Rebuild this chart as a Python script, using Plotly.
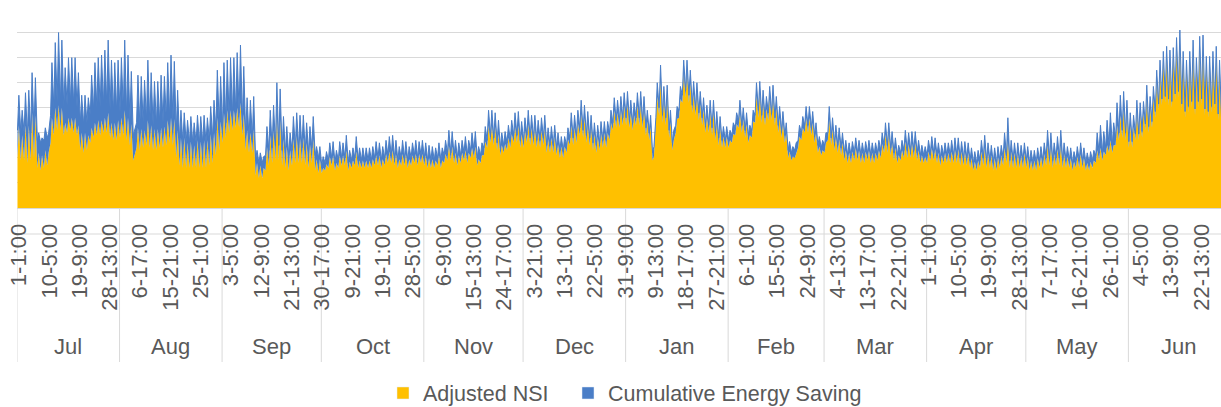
import plotly.graph_objects as go

# ---------------- data ----------------
months = ["Jul", "Aug", "Sep", "Oct", "Nov", "Dec", "Jan", "Feb", "Mar", "Apr", "May", "Jun"]
month_days = [31, 31, 30, 31, 30, 31, 31, 29, 31, 30, 31, 30]

tick_labels = [
    "1-1:00", "10-5:00", "19-9:00", "28-13:00",
    "6-17:00", "15-21:00", "25-1:00",
    "3-5:00", "12-9:00", "21-13:00", "30-17:00",
    "9-21:00", "19-1:00", "28-5:00",
    "6-9:00", "15-13:00", "24-17:00",
    "3-21:00", "13-1:00", "22-5:00", "31-9:00",
    "9-13:00", "18-17:00", "27-21:00",
    "6-1:00", "15-5:00", "24-9:00",
    "4-13:00", "13-17:00", "22-21:00",
    "1-1:00", "10-5:00", "19-9:00", "28-13:00",
    "7-17:00", "16-21:00", "26-1:00",
    "4-5:00", "13-9:00", "22-13:00",
]
tick_step_hours = 220

# daily peak of the stacked total (Adjusted NSI + Cumulative Energy Saving)
peak_total = [
    # Jul
    4.5, 3.9, 4.6, 4.7, 5.4, 5.2, 3.0, 2.8, 3.2, 3.0, 5.8, 6.6, 7.0, 6.7, 5.6, 6.0,
    6.0, 6.0, 5.4, 4.5, 4.5, 4.4, 5.3, 5.8, 6.0, 6.1, 6.3, 6.7, 5.9, 5.8, 5.9,
    # Aug
    6.0, 6.7, 6.1, 5.45, 3.1, 5.3, 5.25, 5.1, 5.9, 5.4, 5.05, 5.05, 5.3, 5.25, 5.8, 6.1,
    5.85, 4.7, 3.9, 3.8, 3.5, 3.65, 3.4, 3.7, 3.65, 3.7, 3.6, 4.05, 4.3, 5.5, 5.25,
    # Sep
    5.8, 5.9, 6.0, 6.0, 6.2, 6.5, 5.65, 4.4, 4.3, 4.45, 2.3, 2.2, 2.05, 3.25, 3.9,
    4.1, 5.0, 4.75, 3.65, 3.25, 3.0, 3.65, 3.8, 3.7, 3.7, 3.4, 3.25, 3.65, 2.45, 2.45,
    # Oct
    2.05, 2.25, 2.6, 2.65, 2.3, 2.65, 2.6, 2.9, 2.3, 2.4, 2.85, 2.4, 2.4, 2.4, 2.4, 2.45,
    2.65, 2.6, 2.45, 2.7, 2.85, 2.9, 2.7, 2.45, 2.7, 2.65, 2.45, 2.6, 2.7, 2.65, 2.7,
    # Nov
    2.6, 2.5, 2.45, 2.4, 2.6, 2.4, 2.7, 3.1, 3.05, 2.7, 2.6, 2.7, 2.85, 2.7, 3.0,
    3.05, 2.45, 2.6, 3.25, 3.9, 3.9, 3.8, 3.5, 3.0, 3.05, 3.3, 3.5, 3.8, 3.85, 3.45,
    # Dec
    3.6, 3.9, 3.7, 3.7, 3.5, 3.6, 3.7, 3.2, 3.25, 3.3, 3.0, 2.85, 2.85, 3.2, 3.8, 3.7,
    3.9, 4.3, 4.1, 3.85, 3.7, 3.4, 3.3, 3.45, 3.45, 3.45, 3.9, 4.4, 4.3, 4.45, 4.6,
    # Jan
    4.65, 4.3, 4.2, 4.6, 4.65, 4.45, 3.9, 3.7, 2.45, 5.0, 5.7, 4.85, 4.9, 3.9, 3.1, 4.05,
    4.85, 5.9, 5.9, 5.5, 5.05, 5.0, 4.65, 4.4, 4.1, 4.3, 4.3, 3.85, 3.65, 3.25, 3.25,
    # Feb
    3.1, 3.4, 3.8, 4.3, 4.0, 3.8, 3.3, 3.9, 5.0, 5.05, 4.7, 4.45, 4.85, 4.9, 4.45,
    4.05, 3.85, 3.4, 2.65, 2.45, 2.6, 3.3, 3.65, 4.05, 4.05, 3.85, 3.4, 2.85, 2.7,
    # Mar
    3.0, 4.05, 3.6, 3.3, 3.2, 3.0, 2.7, 2.6, 2.65, 2.8, 2.7, 2.6, 2.65, 2.7, 2.6, 2.6,
    2.7, 3.0, 3.4, 3.4, 3.05, 2.8, 2.5, 2.7, 3.1, 3.0, 3.05, 3.05, 2.7, 2.5, 2.45,
    # Apr
    2.7, 2.85, 2.8, 2.6, 2.5, 2.6, 2.6, 2.7, 2.8, 2.8, 2.65, 2.65, 2.6, 2.4, 2.25,
    2.3, 2.7, 2.9, 2.6, 2.5, 2.4, 2.45, 2.5, 3.0, 3.6, 2.7, 2.6, 2.6, 2.5, 2.6,
    # May
    2.45, 2.3, 2.3, 2.4, 2.45, 2.6, 3.1, 3.0, 2.6, 2.85, 3.1, 2.6, 2.45, 2.4, 2.25, 2.45,
    2.6, 2.4, 2.2, 2.25, 2.3, 3.0, 3.3, 3.05, 3.5, 3.8, 3.4, 4.2, 4.5, 4.65, 4.3,
    # Jun
    3.8, 3.7, 4.3, 4.2, 4.25, 4.9, 4.45, 4.85, 5.5, 5.9, 6.25, 6.45, 6.3, 6.4, 6.8,
    7.1, 6.25, 5.9, 6.25, 6.7, 6.0, 6.85, 6.9, 6.05, 6.05, 6.25, 6.45, 5.9, 5.8, 5.7,
]

# daily peak of Cumulative Energy Saving (blue cap on top of the NSI column)
saving_peak = [
    # Jul
    1.2, 1.0, 1.3, 1.4, 1.6, 1.5, 0.8, 0.7, 0.9, 0.8, 2.2, 2.6, 2.9, 2.7, 2.2, 2.4,
    2.4, 2.4, 2.1, 1.5, 1.5, 1.5, 2.1, 2.4, 2.5, 2.6, 2.7, 2.9, 2.5, 2.4, 2.4,
    # Aug
    2.4, 2.8, 2.5, 2.1, 1.0, 2.1, 2.1, 2.0, 2.4, 2.1, 1.9, 1.9, 2.1, 2.0, 2.3, 2.5,
    2.3, 1.6, 1.1, 1.0, 0.9, 1.0, 0.9, 1.0, 1.0, 1.0, 0.9, 1.1, 1.3, 1.9, 1.8,
    # Sep
    2.0, 2.0, 2.1, 2.1, 2.2, 2.3, 1.9, 1.3, 1.3, 1.3, 0.5, 0.5, 0.45, 0.8, 1.0,
    1.0, 1.3, 1.2, 0.9, 0.8, 0.7, 0.9, 0.9, 0.9, 0.9, 0.8, 0.7, 0.9, 0.5, 0.5,
    # Oct
    0.45, 0.5, 0.55, 0.55, 0.5, 0.55, 0.5, 0.6, 0.45, 0.5, 0.6, 0.5, 0.5, 0.5, 0.5, 0.5,
    0.55, 0.5, 0.5, 0.55, 0.6, 0.6, 0.55, 0.5, 0.55, 0.5, 0.5, 0.5, 0.55, 0.5, 0.55,
    # Nov
    0.5, 0.5, 0.5, 0.5, 0.5, 0.5, 0.55, 0.6, 0.6, 0.5, 0.5, 0.5, 0.55, 0.5, 0.6,
    0.6, 0.5, 0.5, 0.6, 0.6, 0.6, 0.55, 0.55, 0.5, 0.5, 0.5, 0.55, 0.55, 0.55, 0.5,
    # Dec
    0.5, 0.55, 0.5, 0.5, 0.5, 0.5, 0.5, 0.45, 0.45, 0.45, 0.45, 0.4, 0.4, 0.45, 0.5, 0.5,
    0.5, 0.55, 0.5, 0.5, 0.5, 0.45, 0.45, 0.45, 0.45, 0.45, 0.5, 0.5, 0.5, 0.5, 0.5,
    # Jan
    0.5, 0.5, 0.5, 0.5, 0.5, 0.5, 0.45, 0.45, 0.4, 0.55, 0.6, 0.5, 0.5, 0.45, 0.4, 0.5,
    0.5, 0.55, 0.55, 0.5, 0.5, 0.5, 0.5, 0.45, 0.45, 0.45, 0.45, 0.45, 0.4, 0.4, 0.4,
    # Feb
    0.4, 0.45, 0.45, 0.5, 0.45, 0.45, 0.4, 0.45, 0.5, 0.5, 0.5, 0.5, 0.5, 0.5, 0.45,
    0.45, 0.45, 0.4, 0.4, 0.4, 0.4, 0.45, 0.45, 0.45, 0.45, 0.45, 0.4, 0.4, 0.4,
    # Mar
    0.4, 0.5, 0.45, 0.45, 0.45, 0.4, 0.4, 0.4, 0.4, 0.4, 0.4, 0.4, 0.4, 0.4, 0.4, 0.4,
    0.4, 0.45, 0.45, 0.45, 0.45, 0.4, 0.4, 0.4, 0.45, 0.45, 0.45, 0.45, 0.4, 0.4, 0.4,
    # Apr
    0.45, 0.45, 0.45, 0.4, 0.4, 0.4, 0.4, 0.45, 0.45, 0.45, 0.4, 0.4, 0.4, 0.4, 0.4,
    0.4, 0.45, 0.5, 0.4, 0.4, 0.4, 0.4, 0.4, 0.6, 0.9, 0.45, 0.4, 0.4, 0.4, 0.4,
    # May
    0.4, 0.4, 0.4, 0.4, 0.4, 0.45, 0.6, 0.55, 0.45, 0.5, 0.6, 0.45, 0.4, 0.4, 0.4, 0.4,
    0.45, 0.4, 0.4, 0.4, 0.4, 0.7, 0.9, 0.8, 1.0, 1.1, 0.9, 0.9, 0.8, 0.7, 0.6,
    # Jun
    0.5, 0.45, 0.5, 0.45, 0.45, 0.5, 0.45, 0.45, 0.45, 0.4, 0.4, 0.4, 0.35, 0.35, 0.4,
    0.4, 0.35, 0.35, 0.35, 0.4, 0.35, 0.4, 0.4, 0.35, 0.35, 0.35, 0.35, 0.35, 0.35, 0.35,
]

# night-time level of Adjusted NSI (depth of the gaps between daily spikes)
nsi_night = [
    # Jul
    2.0, 1.9, 1.9, 1.8, 1.9, 2.0, 1.6, 1.5, 1.6, 1.7, 2.6, 2.9, 3.1, 3.1, 2.9, 3.0,
    3.1, 3.0, 2.9, 2.3, 2.2, 2.3, 2.6, 2.8, 2.9, 2.9, 3.0, 3.0, 2.8, 2.7, 2.7,
    # Aug
    2.8, 2.9, 2.7, 2.5, 1.9, 2.4, 2.3, 2.4, 2.5, 2.4, 2.3, 2.3, 2.4, 2.4, 2.5, 2.6,
    2.5, 2.0, 1.7, 1.6, 1.6, 1.6, 1.6, 1.6, 1.6, 1.6, 1.6, 1.7, 1.8, 2.1, 2.3,
    # Sep
    2.6, 2.8, 3.0, 3.1, 3.2, 3.2, 2.9, 2.3, 2.2, 2.2, 1.3, 1.2, 1.2, 1.5, 1.7,
    1.8, 1.9, 1.9, 1.7, 1.6, 1.5, 1.7, 1.8, 1.8, 1.8, 1.7, 1.6, 1.8, 1.5, 1.4,
    # Oct
    1.4, 1.5, 1.6, 1.7, 1.5, 1.6, 1.7, 1.7, 1.5, 1.6, 1.7, 1.6, 1.6, 1.6, 1.6, 1.6,
    1.7, 1.7, 1.6, 1.7, 1.8, 1.8, 1.7, 1.6, 1.7, 1.7, 1.6, 1.7, 1.8, 1.7, 1.8,
    # Nov
    1.7, 1.6, 1.6, 1.6, 1.7, 1.6, 1.8, 1.9, 1.9, 1.8, 1.7, 1.8, 1.9, 1.8, 2.0,
    2.0, 1.7, 1.8, 2.1, 2.4, 2.6, 2.5, 2.3, 2.1, 2.2, 2.3, 2.4, 2.6, 2.6, 2.4,
    # Dec
    2.4, 2.6, 2.5, 2.5, 2.4, 2.4, 2.5, 2.2, 2.2, 2.2, 2.1, 2.0, 2.0, 2.2, 2.5, 2.5,
    2.6, 2.9, 2.8, 2.6, 2.5, 2.3, 2.2, 2.3, 2.4, 2.4, 2.7, 3.1, 3.2, 3.2, 3.3,
    # Jan
    3.3, 3.2, 3.1, 3.3, 3.3, 3.2, 2.9, 2.7, 1.9, 3.3, 3.7, 3.4, 3.3, 2.8, 2.3, 3.0,
    3.6, 4.2, 4.4, 4.2, 3.8, 3.7, 3.5, 3.3, 3.0, 3.0, 2.9, 2.7, 2.5, 2.4, 2.4,
    # Feb
    2.4, 2.6, 2.9, 3.2, 3.0, 2.8, 2.6, 2.8, 3.4, 3.6, 3.4, 3.3, 3.5, 3.5, 3.3,
    3.0, 2.8, 2.6, 2.0, 1.9, 2.0, 2.4, 2.7, 3.0, 3.0, 2.9, 2.6, 2.2, 2.1,
    # Mar
    2.2, 2.7, 2.5, 2.3, 2.2, 2.1, 1.9, 1.8, 1.8, 1.9, 1.9, 1.8, 1.8, 1.9, 1.8, 1.8,
    1.9, 2.0, 2.2, 2.2, 2.1, 1.9, 1.8, 1.9, 2.0, 2.0, 2.0, 2.0, 1.9, 1.8, 1.8,
    # Apr
    1.8, 1.9, 1.9, 1.8, 1.7, 1.8, 1.8, 1.8, 1.8, 1.8, 1.7, 1.7, 1.7, 1.6, 1.5,
    1.5, 1.6, 1.7, 1.6, 1.6, 1.5, 1.5, 1.6, 1.7, 1.8, 1.6, 1.6, 1.6, 1.6, 1.6,
    # May
    1.6, 1.5, 1.5, 1.5, 1.6, 1.6, 1.7, 1.7, 1.6, 1.7, 1.7, 1.6, 1.6, 1.6, 1.5, 1.6,
    1.6, 1.6, 1.5, 1.5, 1.6, 1.8, 1.9, 1.9, 2.1, 2.2, 2.2, 2.5, 2.7, 2.8, 2.7,
    # Jun
    2.4, 2.4, 2.7, 2.7, 2.8, 3.1, 3.0, 3.2, 3.6, 3.9, 4.1, 4.2, 4.1, 4.0, 4.3,
    4.4, 3.9, 3.6, 3.8, 4.0, 3.7, 4.0, 4.1, 3.7, 3.6, 3.8, 3.9, 3.5, 3.4, 3.4,
]

# night-time Cumulative Energy Saving, per month
saving_night_by_month = [1.1, 1.0, 0.6, 0.3, 0.3, 0.3, 0.3, 0.3, 0.3, 0.3, 0.3, 0.25]

# ---------------- styling ----------------
ORANGE = "#FFC000"
BLUE = "#4A7EC7"
GRID = "#D9D9D9"
TEXT = "#595959"
FONT = "Liberation Sans, Arial, sans-serif"

NIGHT_HOUR = 3    # 04:00 (series starts at 01:00)
PEAK_HOUR = 13    # 14:00

# ---------------- build hourly-positioned series ----------------
xs, nsi_vals, sav_vals = [], [], []
day = 0
for m, nd in enumerate(month_days):
    for k in range(nd):
        if day >= len(peak_total):
            break
        xs += [day * 24 + NIGHT_HOUR, day * 24 + PEAK_HOUR]
        nsi_vals += [nsi_night[day], peak_total[day] - saving_peak[day]]
        sav_vals += [saving_night_by_month[m], saving_peak[day]]
        day += 1

# ---------------- geometry ----------------
# the page body margin is removed by a post script, so figure px == screen px
W, H = 1221, 407
L, T = 17, 7
AXIS_Y = 208            # screen y of the x-axis line in the reference
plot_h = AXIS_Y - T
B = H - T - plot_h
plot_w = W - L
PX_PER_HOUR = 0.13782
x_lo = -0.5
x_hi = x_lo + plot_w / PX_PER_HOUR
tickvals = [i * tick_step_hours for i in range(len(tick_labels))]


def py(screen_y):
    return (AXIS_Y - screen_y) / plot_h


def px(screen_x):
    return (screen_x - L) / plot_w


fig = go.Figure()
fig.add_trace(go.Scatter(
    x=xs, y=nsi_vals, mode="lines", stackgroup="one",
    line=dict(width=0, color=ORANGE), fillcolor=ORANGE,
    name="Adjusted NSI", showlegend=False, hoverinfo="skip",
))
fig.add_trace(go.Scatter(
    x=xs, y=sav_vals, mode="lines", stackgroup="one",
    line=dict(width=1, color=BLUE), fillcolor=BLUE,
    name="Cumulative Energy Saving", showlegend=False, hoverinfo="skip",
))
# legend entries (square swatches like the original), one legend box each
fig.add_trace(go.Bar(x=[None], y=[None], marker_color=ORANGE, name="Adjusted NSI",
                     legend="legend"))
fig.add_trace(go.Bar(x=[None], y=[None], marker_color=BLUE, name="Cumulative Energy Saving",
                     legend="legend2"))

fig.update_xaxes(
    range=[x_lo, x_hi], tickmode="array", tickvals=tickvals, ticktext=tick_labels,
    tickangle=-90, showgrid=False, zeroline=False, showline=True, linecolor=GRID,
    linewidth=1, ticks="", ticklabelstandoff=6, ticklabelshift=2,
    ticklabeloverflow="allow", automargin=False,
    tickfont=dict(family=FONT, size=22, color=TEXT),
)
fig.update_yaxes(
    range=[0, 8.02], tickvals=[0, 1, 2, 3, 4, 5, 6, 7, 8], showgrid=True,
    gridcolor=GRID, gridwidth=1, showticklabels=False, zeroline=False,
    showline=False, ticks="", automargin=False,
)

shapes = []
annotations = []
start = 0
for m, nd in enumerate(month_days):
    b = start * 24 - 0.5
    if b < x_hi:
        shapes.append(dict(type="line", xref="x", yref="paper", x0=b, x1=b,
                           y0=0, y1=py(362), line=dict(color=GRID, width=1), layer="below"))
    mid = (start + nd / 2) * 24 - 0.5
    if mid < x_hi:
        annotations.append(dict(x=mid, y=py(346), xref="x", yref="paper", text=months[m],
                                showarrow=False, xanchor="center", yanchor="middle",
                                font=dict(family=FONT, size=22, color=TEXT)))
    start += nd

shapes.append(dict(type="line", xref="paper", yref="paper", x0=0, x1=1,
                   y0=py(234), y1=py(234), line=dict(color=GRID, width=1), layer="below"))

legend_common = dict(orientation="h", xanchor="left", yref="container",
                     y=1 - 393 / H, yanchor="middle",
                     font=dict(family=FONT, size=21.5, color=TEXT), itemwidth=30,
                     bgcolor="rgba(0,0,0,0)")

fig.update_layout(
    width=W, height=H,
    margin=dict(l=L, r=0, t=T, b=B, pad=0, autoexpand=False),
    paper_bgcolor="white", plot_bgcolor="white",
    shapes=shapes, annotations=annotations,
    showlegend=True,
    legend=dict(x=px(383), **legend_common),
    legend2=dict(x=px(568), **legend_common),
)

fig.write_html("out.html",
               config={"displayModeBar": False, "staticPlot": True},
               post_script="document.body.style.margin='0px';"
                           "document.body.style.overflow='hidden';")
